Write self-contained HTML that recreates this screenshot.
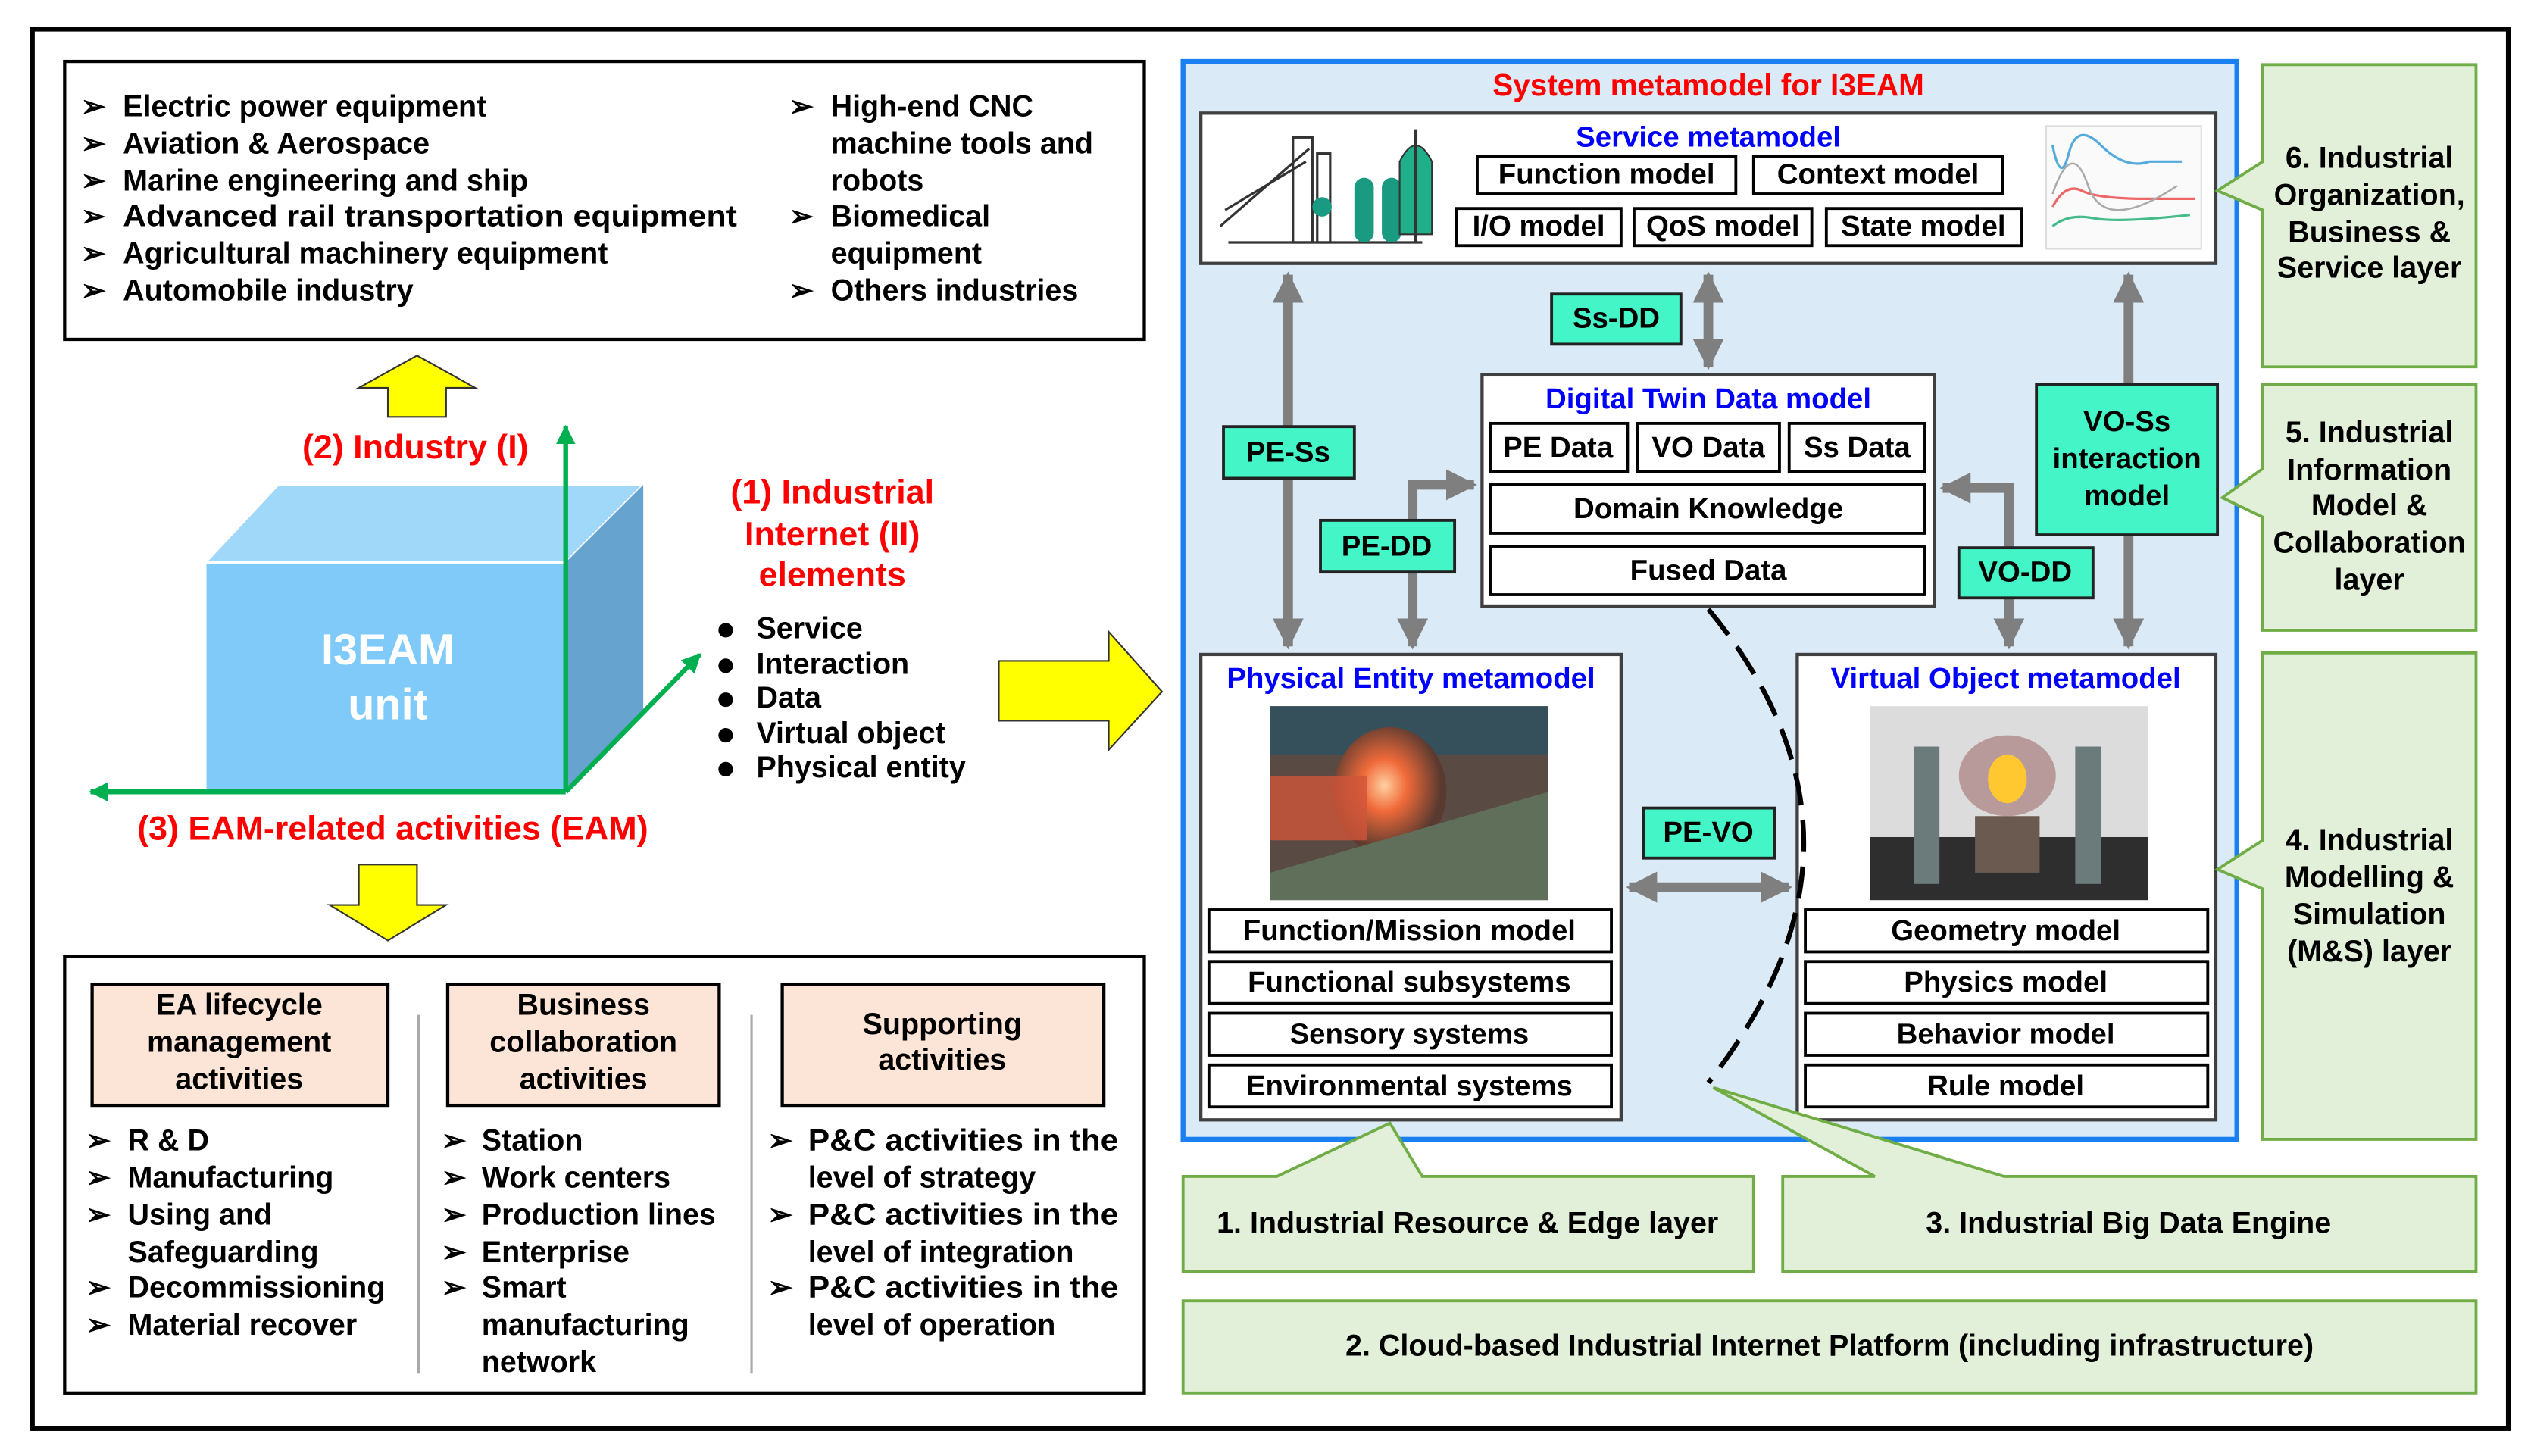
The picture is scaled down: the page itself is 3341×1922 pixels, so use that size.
<!DOCTYPE html>
<html><head><meta charset="utf-8"><style>
html,body{margin:0;padding:0;background:#fff;}
svg{display:block;}
text{font-family:"Liberation Sans",sans-serif;font-weight:bold;}
</style></head><body>
<svg width="3341" height="1922" viewBox="0 0 1566 901" preserveAspectRatio="none" xmlns="http://www.w3.org/2000/svg">
<defs>
<marker id="gh" viewBox="0 0 10 10" refX="9" refY="5" markerWidth="3.2" markerHeight="3.2" orient="auto-start-reverse" markerUnits="strokeWidth"><path d="M0,0 L10,5 L0,10 z" fill="#7f7f7f"/></marker>
<marker id="gr" viewBox="0 0 10 10" refX="9" refY="5" markerWidth="4" markerHeight="4" orient="auto-start-reverse" markerUnits="strokeWidth"><path d="M0,0 L10,5 L0,10 z" fill="#00b050"/></marker>
<radialGradient id="glow" cx="0.45" cy="0.45" r="0.5"><stop offset="0" stop-color="#ffd0a0"/><stop offset="0.4" stop-color="#f06a3a"/><stop offset="1" stop-color="#5a3a30"/></radialGradient>
<radialGradient id="glow2" cx="0.5" cy="0.3" r="0.25"><stop offset="0" stop-color="#ffe060"/><stop offset="0.6" stop-color="#e09030"/><stop offset="1" stop-color="#b0b0b0" stop-opacity="0"/></radialGradient>
</defs>
<rect x="0" y="0" width="1566" height="901" fill="#fff"/>
<rect x="20" y="18" width="1532" height="866" fill="none" stroke="#000" stroke-width="3"/>

<!-- top-left industries box -->
<rect x="40" y="38" width="668" height="172" fill="#fff" stroke="#000" stroke-width="2"/>
<g font-size="18.5" fill="#000" dominant-baseline="middle">
<text x="50" y="67">➢</text><text x="76" y="67">Electric power equipment</text>
<text x="50" y="90">➢</text><text x="76" y="90">Aviation &amp; Aerospace</text>
<text x="50" y="113">➢</text><text x="76" y="113">Marine engineering and ship</text>
<text x="50" y="135">➢</text><text x="76" y="135" textLength="380" lengthAdjust="spacingAndGlyphs">Advanced rail transportation equipment</text>
<text x="50" y="158">➢</text><text x="76" y="158">Agricultural machinery equipment</text>
<text x="50" y="181">➢</text><text x="76" y="181">Automobile industry</text>
<text x="488" y="67">➢</text><text x="514" y="67">High-end CNC</text>
<text x="514" y="90">machine tools and</text>
<text x="514" y="113">robots</text>
<text x="488" y="135">➢</text><text x="514" y="135">Biomedical</text>
<text x="514" y="158">equipment</text>
<text x="488" y="181">➢</text><text x="514" y="181">Others industries</text>
</g>

<!-- yellow up arrow -->
<polygon points="258,220 294,240 276,240 276,258 240,258 240,240 222,240" fill="#ffff00" stroke="#333" stroke-width="1"/>
<text x="257" y="278" font-size="21" fill="#ff0000" text-anchor="middle" dominant-baseline="middle">(2) Industry (I)</text>

<!-- cube -->
<polygon points="127,348 172,300 398,300 350,348" fill="#a0d8fa" stroke="#fff" stroke-width="1.5"/>
<polygon points="350,348 398,300 398,443 350,490" fill="#66a4cf"/>
<rect x="127" y="348" width="223" height="142" fill="#7fcaf8" stroke="#fff" stroke-width="1.5"/>
<text x="240" y="404" font-size="27" fill="#fff" text-anchor="middle" dominant-baseline="middle">I3EAM</text>
<text x="240" y="438" font-size="27" fill="#fff" text-anchor="middle" dominant-baseline="middle">unit</text>
<line x1="350" y1="490" x2="350" y2="264" stroke="#00b050" stroke-width="3" marker-end="url(#gr)"/>
<line x1="350" y1="490" x2="56" y2="490" stroke="#00b050" stroke-width="3" marker-end="url(#gr)"/>
<line x1="350" y1="490" x2="433" y2="405" stroke="#00b050" stroke-width="3" marker-end="url(#gr)"/>
<text x="243" y="514" font-size="21" fill="#ff0000" text-anchor="middle" dominant-baseline="middle">(3) EAM-related activities  (EAM)</text>

<g font-size="21" fill="#ff0000" text-anchor="middle" dominant-baseline="middle">
<text x="515" y="306">(1) Industrial</text><text x="515" y="332">Internet (II)</text><text x="515" y="357">elements</text>
</g>
<g font-size="18.5" fill="#000" dominant-baseline="middle">
<circle cx="449" cy="390" r="4.5"/><text x="468" y="390">Service</text>
<circle cx="449" cy="412" r="4.5"/><text x="468" y="412">Interaction</text>
<circle cx="449" cy="433" r="4.5"/><text x="468" y="433">Data</text>
<circle cx="449" cy="455" r="4.5"/><text x="468" y="455">Virtual object</text>
<circle cx="449" cy="476" r="4.5"/><text x="468" y="476">Physical entity</text>
</g>
<!-- big right arrow -->
<polygon points="618,409 686,409 686,391 719,428 686,464 686,446 618,446" fill="#ffff00" stroke="#333" stroke-width="1"/>

<!-- down yellow arrow -->
<polygon points="222,535 258,535 258,560 276,560 240,582 204,560 222,560" fill="#ffff00" stroke="#333" stroke-width="1"/>

<!-- bottom-left box -->
<rect x="40" y="592" width="668" height="270" fill="#fff" stroke="#000" stroke-width="2"/>
<line x1="259" y1="628" x2="259" y2="850" stroke="#aaa" stroke-width="1.5"/>
<line x1="465" y1="628" x2="465" y2="850" stroke="#aaa" stroke-width="1.5"/>
<rect x="57" y="609" width="183" height="75" fill="#fce4d6" stroke="#000" stroke-width="2"/>
<rect x="277" y="609" width="168" height="75" fill="#fce4d6" stroke="#000" stroke-width="2"/>
<rect x="484" y="609" width="199" height="75" fill="#fce4d6" stroke="#000" stroke-width="2"/>
<g font-size="18.5" fill="#000" text-anchor="middle" dominant-baseline="middle">
<text x="148" y="623">EA lifecycle</text><text x="148" y="646">management</text><text x="148" y="669">activities</text>
<text x="361" y="623">Business</text><text x="361" y="646">collaboration</text><text x="361" y="669">activities</text>
<text x="583" y="635">Supporting</text><text x="583" y="657">activities</text>
</g>
<g font-size="18.5" fill="#000" dominant-baseline="middle">
<text x="53" y="707">➢</text><text x="79" y="707">R &amp; D</text>
<text x="53" y="730">➢</text><text x="79" y="730">Manufacturing</text>
<text x="53" y="753">➢</text><text x="79" y="753">Using and</text>
<text x="79" y="776">Safeguarding</text>
<text x="53" y="798">➢</text><text x="79" y="798">Decommissioning</text>
<text x="53" y="821">➢</text><text x="79" y="821">Material recover</text>
<text x="273" y="707">➢</text><text x="298" y="707">Station</text>
<text x="273" y="730">➢</text><text x="298" y="730">Work centers</text>
<text x="273" y="753">➢</text><text x="298" y="753">Production lines</text>
<text x="273" y="776">➢</text><text x="298" y="776">Enterprise</text>
<text x="273" y="798">➢</text><text x="298" y="798">Smart</text>
<text x="298" y="821">manufacturing</text>
<text x="298" y="844">network</text>
<text x="475" y="707">➢</text><text x="500" y="707" textLength="192" lengthAdjust="spacingAndGlyphs">P&amp;C activities in the</text>
<text x="500" y="730">level of strategy</text>
<text x="475" y="753">➢</text><text x="500" y="753" textLength="192" lengthAdjust="spacingAndGlyphs">P&amp;C activities in the</text>
<text x="500" y="776">level of integration</text>
<text x="475" y="798">➢</text><text x="500" y="798" textLength="192" lengthAdjust="spacingAndGlyphs">P&amp;C activities in the</text>
<text x="500" y="821">level of operation</text>
</g>

<!-- right panel -->
<rect x="732" y="38" width="652" height="667" fill="#dbeaf7" stroke="#1a7ff0" stroke-width="3"/>
<text x="1057" y="54" font-size="19" fill="#ff0000" text-anchor="middle" dominant-baseline="middle">System metamodel for I3EAM</text>

<!-- service box -->
<rect x="743" y="70" width="628" height="93" fill="#fff" stroke="#404040" stroke-width="2"/>
<!-- left drawing -->
<g stroke="#333" stroke-width="1.5" fill="none">
<line x1="755" y1="140" x2="810" y2="92"/><line x1="758" y1="130" x2="808" y2="100"/>
<rect x="800" y="85" width="12" height="65"/><rect x="815" y="95" width="8" height="55"/>
<path d="M760 150 h120"/>
</g>
<rect x="838" y="110" width="12" height="40" rx="6" fill="#1a9a80"/><rect x="855" y="110" width="12" height="40" rx="6" fill="#1a9a80"/>
<circle cx="818" cy="128" r="6" fill="#1a9a80"/>
<path d="M866 100 q10 -20 20 0 v45 h-20z" fill="#1fb08a" stroke="#333"/>
<line x1="876" y1="80" x2="876" y2="150" stroke="#333" stroke-width="2"/>
<!-- right chart -->
<rect x="1266" y="78" width="96" height="76" fill="#fafafa" stroke="#ddd"/>
<path d="M1270 90 q5 25 10 5 t20 -5 t30 10 h20" stroke="#55aadd" fill="none" stroke-width="1.5"/>
<path d="M1270 128 q8 -15 18 -10 t40 5 h30" stroke="#ee6666" fill="none" stroke-width="1.5"/>
<path d="M1270 140 q10 -8 25 -5 t60 -2" stroke="#44bb88" fill="none" stroke-width="1.5"/>
<path d="M1270 120 q12 -35 22 -5 t55 0" stroke="#aaaaaa" fill="none" stroke-width="1.2"/>
<text x="1057" y="86" font-size="18" fill="#0000ff" text-anchor="middle" dominant-baseline="middle">Service metamodel</text>
<g fill="#fff" stroke="#000" stroke-width="1.8">
<rect x="914" y="97" width="160" height="23"/><rect x="1085" y="97" width="154" height="23"/>
<rect x="901" y="129" width="102" height="23"/><rect x="1011" y="129" width="110" height="23"/><rect x="1130" y="129" width="121" height="23"/>
</g>
<g font-size="18" fill="#000" text-anchor="middle" dominant-baseline="middle">
<text x="994" y="109">Function model</text><text x="1162" y="109">Context model</text>
<text x="952" y="141">I/O model</text><text x="1066" y="141">QoS model</text><text x="1190" y="141">State model</text>
</g>

<!-- gray arrows -->
<g stroke="#7f7f7f" stroke-width="6" fill="none">
<line x1="797" y1="170" x2="797" y2="400" marker-start="url(#gh)" marker-end="url(#gh)"/>
<line x1="1057" y1="170" x2="1057" y2="227" marker-start="url(#gh)" marker-end="url(#gh)"/>
<line x1="1317" y1="170" x2="1317" y2="400" marker-start="url(#gh)" marker-end="url(#gh)"/>
<polyline points="874,400 874,300 912,300" marker-start="url(#gh)" marker-end="url(#gh)"/>
<polyline points="1243,400 1243,302 1202,302" marker-start="url(#gh)" marker-end="url(#gh)"/>
<line x1="1008" y1="549" x2="1107" y2="549" marker-start="url(#gh)" marker-end="url(#gh)"/>
</g>
<g fill="#43f5c7" stroke="#222" stroke-width="1.8">
<rect x="757" y="264" width="81" height="32"/>
<rect x="960" y="182" width="80" height="31"/>
<rect x="817" y="322" width="83" height="32"/>
<rect x="1212" y="339" width="83" height="31"/>
<rect x="1260" y="238" width="112" height="93"/>
<rect x="1017" y="500" width="81" height="31"/>
</g>
<g font-size="18" fill="#000" text-anchor="middle" dominant-baseline="middle">
<text x="797" y="281">PE-Ss</text><text x="1000" y="198">Ss-DD</text><text x="858" y="339">PE-DD</text>
<text x="1253" y="355">VO-DD</text><text x="1057" y="516">PE-VO</text>
<text x="1316" y="262">VO-Ss</text><text x="1316" y="285">interaction</text><text x="1316" y="308">model</text>
</g>

<!-- DT data model -->
<rect x="917" y="232" width="280" height="143" fill="#fff" stroke="#404040" stroke-width="2"/>
<text x="1057" y="248" font-size="18" fill="#0000ff" text-anchor="middle" dominant-baseline="middle">Digital Twin Data model</text>
<g fill="#fff" stroke="#000" stroke-width="1.8">
<rect x="922" y="262" width="85" height="30"/><rect x="1013" y="262" width="88" height="30"/><rect x="1107" y="262" width="84" height="30"/>
<rect x="922" y="300" width="269" height="30"/><rect x="922" y="338" width="269" height="30"/>
</g>
<g font-size="18" fill="#000" text-anchor="middle" dominant-baseline="middle">
<text x="964" y="278">PE Data</text><text x="1057" y="278">VO Data</text><text x="1149" y="278">Ss Data</text>
<text x="1057" y="316">Domain Knowledge</text><text x="1057" y="354">Fused Data</text>
</g>

<!-- PE box -->
<rect x="743" y="405" width="260" height="288" fill="#fff" stroke="#404040" stroke-width="2"/>
<text x="873" y="421" font-size="18" fill="#0000ff" text-anchor="middle" dominant-baseline="middle">Physical Entity metamodel</text>
<rect x="786" y="437" width="172" height="120" fill="#5a4a44"/>
<rect x="786" y="437" width="172" height="30" fill="#35505a"/>
<ellipse cx="860" cy="490" rx="35" ry="40" fill="url(#glow)"/>
<rect x="786" y="480" width="60" height="40" fill="#d0553a" opacity="0.8"/>
<polygon points="786,540 958,490 958,557 786,557" fill="#5f6f5a"/>
<!-- VO box -->
<rect x="1112" y="405" width="259" height="288" fill="#fff" stroke="#404040" stroke-width="2"/>
<text x="1241" y="421" font-size="18" fill="#0000ff" text-anchor="middle" dominant-baseline="middle">Virtual Object metamodel</text>
<rect x="1157" y="437" width="172" height="120" fill="#dcdcdc"/>
<rect x="1157" y="518" width="172" height="39" fill="#2e2e2e"/>
<rect x="1184" y="462" width="16" height="85" fill="#6b7a7a"/><rect x="1284" y="462" width="16" height="85" fill="#6b7a7a"/>
<ellipse cx="1242" cy="480" rx="30" ry="25" fill="#b99a9a"/>
<ellipse cx="1242" cy="482" rx="12" ry="15" fill="#ffc830"/>
<rect x="1222" y="505" width="40" height="35" fill="#6a5a50"/>
<g fill="#fff" stroke="#000" stroke-width="1.8">
<rect x="748" y="563" width="249" height="26"/><rect x="748" y="595" width="249" height="26"/><rect x="748" y="627" width="249" height="26"/><rect x="748" y="659" width="249" height="26"/>
<rect x="1117" y="563" width="249" height="26"/><rect x="1117" y="595" width="249" height="26"/><rect x="1117" y="627" width="249" height="26"/><rect x="1117" y="659" width="249" height="26"/>
</g>
<g font-size="18" fill="#000" text-anchor="middle" dominant-baseline="middle">
<text x="872" y="577">Function/Mission model</text><text x="872" y="609">Functional subsystems</text>
<text x="872" y="641">Sensory systems</text><text x="872" y="673">Environmental systems</text>
<text x="1241" y="577">Geometry model</text><text x="1241" y="609">Physics model</text>
<text x="1241" y="641">Behavior model</text><text x="1241" y="673">Rule model</text>
</g>
<!-- dashed curve -->
<path d="M1057 377 Q1175 520 1057 670" fill="none" stroke="#000" stroke-width="3" stroke-dasharray="20,9"/>

<!-- green callouts -->
<g fill="#e2f0d9" stroke="#70ad47" stroke-width="1.8">
<path d="M1400 40 H1532 V227 H1400 V130 L1372 118 L1400 100 Z"/>
<path d="M1400 238 H1532 V390 H1400 V320 L1375 308 L1400 290 Z"/>
<path d="M1400 404 H1532 V705 H1400 V550 L1372 538 L1400 520 Z"/>
<path d="M732 728 H790 L860 695 L880 728 H1085 V787 H732 Z"/>
<path d="M1103 728 H1160 L1060 673 L1240 728 H1532 V787 H1103 Z"/>
<rect x="732" y="805" width="800" height="57"/>
</g>
<g font-size="18.5" fill="#000" text-anchor="middle" dominant-baseline="middle">
<text x="1466" y="99">6. Industrial</text><text x="1466" y="122">Organization,</text><text x="1466" y="145">Business &amp;</text><text x="1466" y="167">Service layer</text>
<text x="1466" y="269">5. Industrial</text><text x="1466" y="292">Information</text><text x="1466" y="314">Model &amp;</text><text x="1466" y="337">Collaboration</text><text x="1466" y="360">layer</text>
<text x="1466" y="521">4. Industrial</text><text x="1466" y="544">Modelling &amp;</text><text x="1466" y="567">Simulation</text><text x="1466" y="590">(M&amp;S) layer</text>
<text x="908" y="758">1. Industrial Resource &amp; Edge layer</text>
<text x="1317" y="758">3. Industrial Big Data Engine</text>
<text x="1132" y="834">2. Cloud-based Industrial Internet Platform (including infrastructure)</text>
</g>
</svg>
</body></html>
